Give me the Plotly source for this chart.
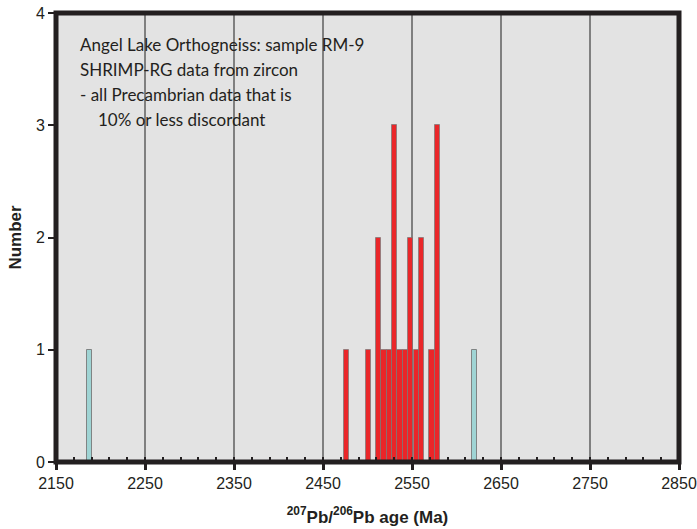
import plotly.graph_objects as go

# Data
red_ages = [2476.5, 2501, 2512.5, 2518.5, 2524.5, 2530.5, 2536.5, 2542.5, 2548.5, 2555, 2561, 2572.5, 2578.5]
red_counts = [1, 1, 2, 1, 1, 3, 1, 1, 2, 1, 2, 1, 3]
cyan_ages = [2188, 2620.5]
cyan_counts = [1, 1]
x_ticks = [2150, 2250, 2350, 2450, 2550, 2650, 2750, 2850]
y_ticks = [0, 1, 2, 3, 4]
note_lines = [
    "Angel Lake Orthogneiss: sample RM-9",
    "SHRIMP-RG data from zircon",
    "- all Precambrian data that is",
    "10% or less discordant",
]

INK = "#231f20"
BAR_W = 6
W, H = 697, 529
ML, MR, MT, MB = 56, 18, 13, 67
PW, PH = W - ML - MR, H - MT - MB

fig = go.Figure()
fig.add_trace(go.Bar(
    x=cyan_ages, y=cyan_counts, width=BAR_W,
    marker=dict(color="#9fd4d4", line=dict(color="rgba(110,110,110,0.8)", width=1)),
    showlegend=False,
))
fig.add_trace(go.Bar(
    x=red_ages, y=red_counts, width=BAR_W,
    marker=dict(color="#ea2629", line=dict(color="rgba(120,120,120,0.7)", width=1)),
    showlegend=False,
))

# note text placement (pixel positions converted to paper coords)
note_x_px = [78, 78, 78, 96]
note_y_px = [45, 70, 95, 119]
annotations = []
for txt, xp, yp in zip(note_lines, note_x_px, note_y_px):
    annotations.append(dict(
        xref="paper", yref="paper",
        x=(xp - ML) / PW, y=1 - (yp - MT) / PH,
        xanchor="left", yanchor="middle", align="left", showarrow=False,
        text=txt, font=dict(family="Lato, sans-serif", size=17, color=INK),
    ))

fig.update_layout(
    width=W, height=H,
    margin=dict(l=ML, r=MR, t=MT, b=MB, pad=0),
    paper_bgcolor="white",
    plot_bgcolor="#e3e3e3",
    bargap=0,
    font=dict(family="Liberation Sans, Arial, sans-serif", color=INK, size=16),
    xaxis=dict(
        range=[2150, 2850], automargin=False,
        tickmode="array", tickvals=x_ticks, ticktext=[str(v) for v in x_ticks],
        ticks="outside", ticklen=7, tickwidth=2.5, tickcolor=INK,
        showgrid=True, gridcolor="#808080", gridwidth=1.5,
        zeroline=False, showline=False,
        tickfont=dict(size=16, color=INK),
        minor=dict(dtick=20, tick0=2150, ticks="inside", ticklen=5, tickwidth=2,
                   tickcolor=INK, showgrid=False),
        title=dict(text="<b><sup>207</sup>Pb/<sup>206</sup>Pb age (Ma)</b>",
                   font=dict(size=17, color=INK), standoff=19),
    ),
    yaxis=dict(
        range=[0, 4], automargin=False,
        tickmode="array", tickvals=y_ticks,
        ticks="outside", ticklen=7, tickwidth=2, tickcolor=INK,
        showgrid=False, zeroline=False, showline=False,
        tickfont=dict(size=16, color=INK),
        title=dict(text="<b>Number</b>", font=dict(size=17, color=INK), standoff=9),
    ),
    shapes=[dict(type="rect", xref="paper", yref="paper", x0=0, x1=1, y0=0, y1=1,
                 line=dict(color=INK, width=5), fillcolor="rgba(0,0,0,0)", layer="above")],
    annotations=annotations,
)

fig.write_html("out.html")
